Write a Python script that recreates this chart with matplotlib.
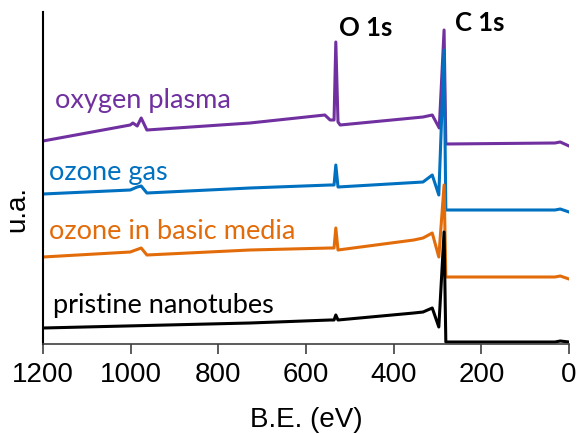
import matplotlib.pyplot as plt

# XPS survey spectra, binding energy (eV) vs intensity (arbitrary units)
plasma_be = [1200, 1001, 995, 985, 976, 963, 728, 557, 545, 536, 532, 527, 522, 333, 312, 296, 285, 281, 32, 20, 0]
plasma_int = [203, 219, 221, 218, 226, 214, 221, 229, 224, 224, 302, 222, 219, 227, 229, 216, 314, 200, 201, 202, 198]

gas_be = [1200, 1001, 985, 976, 963, 728, 545, 536, 532, 527, 333, 312, 297, 285, 281, 32, 20, 0]
gas_int = [150, 154, 157, 158, 151, 156, 159, 159, 179, 157, 162, 169, 149, 294, 134, 134, 135, 132]

basic_be = [1200, 1001, 976, 963, 728, 545, 536, 532, 527, 354, 333, 312, 297, 285, 281, 32, 20, 0]
basic_int = [87, 92, 96, 89, 94, 96, 96, 116, 94, 104, 106, 111, 87, 159, 67, 67, 68, 65]

pristine_be = [1200, 728, 545, 536, 532, 527, 354, 333, 312, 297, 285, 281, 32, 20, 0]
pristine_int = [16, 21, 24, 24, 29, 24, 31, 32, 36, 17, 112, 2, 2, 3, 2]

series = [
    (plasma_be, plasma_int, '#7030A0', 'oxygen plasma', 1172, 237),
    (gas_be, gas_int, '#0070C0', 'ozone gas', 1186, 165),
    (basic_be, basic_int, '#E36C0A', 'ozone in basic media', 1186, 106),
    (pristine_be, pristine_int, '#000000', 'pristine nanotubes', 1177, 32),
]

fig = plt.figure(figsize=(5.78, 4.35), dpi=100)
ax = fig.add_axes([43 / 578, 1 - 345 / 435, 526 / 578, 332 / 435])

for be, inten, color, label, tx, ty in series:
    ax.plot(be, inten, color=color, lw=2.2, solid_joinstyle='round')
    ax.text(tx, ty, label, color=color, fontsize=19.5, family='Lato', va='baseline', ha='left')

ax.text(524, 309, 'O 1s', fontsize=18.5, family='Lato', fontweight='bold', va='baseline')
ax.text(260, 314, 'C 1s', fontsize=18.5, family='Lato', fontweight='bold', va='baseline')

ax.set_xlim(1200, 0)
ax.set_ylim(0, 332)
ax.set_xticks([1200, 1000, 800, 600, 400, 200, 0])
ax.set_yticks([])
for s in ['top', 'right']:
    ax.spines[s].set_visible(False)
ax.spines['left'].set_linewidth(1.5)
ax.spines['bottom'].set_linewidth(1.2)
ax.spines['bottom'].set_color('#404040')
ax.tick_params(axis='x', length=7, width=1.2, pad=5, labelsize=20, color='#404040')
for lbl in ax.get_xticklabels():
    lbl.set_family('Liberation Sans')
ax.set_xlabel('B.E. (eV)', fontsize=20, family='Liberation Sans', labelpad=14)
ax.set_ylabel('u.a.', fontsize=20, family='Liberation Sans')
ax.yaxis.set_label_coords(-0.0247, 0.41)

fig.savefig('out.png', dpi=100)
